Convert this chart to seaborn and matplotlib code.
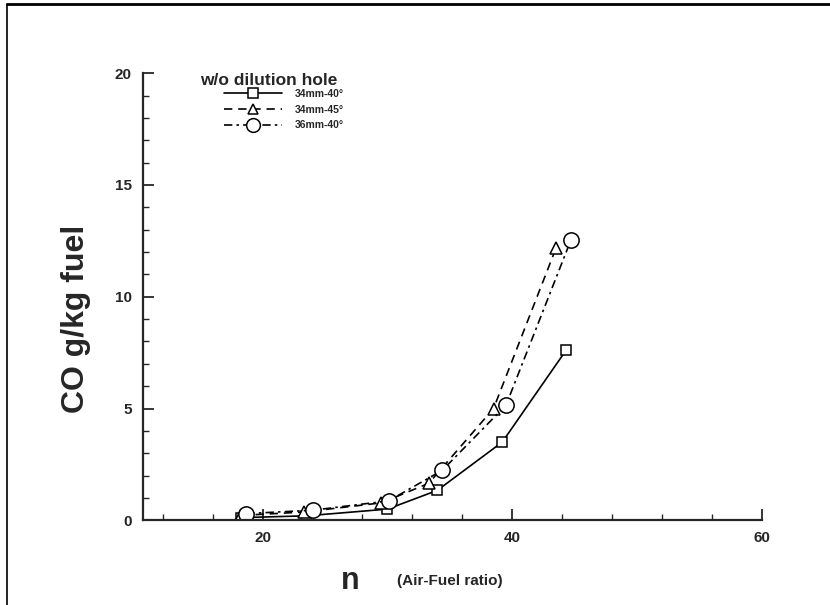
import numpy as np
import pandas as pd
import matplotlib
matplotlib.use("Agg")
import matplotlib.pyplot as plt
import seaborn as sns
from matplotlib.lines import Line2D
from matplotlib.ticker import MultipleLocator

# данные
series = ["34mm-40°", "34mm-45°", "36mm-40°"]
n_sq = [18.3, 23.5, 30.0, 34.0, 39.2, 44.3]
co_sq = [0.12, 0.2, 0.5, 1.34, 3.5, 7.6]
n_tri = [18.3, 23.3, 29.5, 33.3, 38.5, 43.5]
co_tri = [0.22, 0.37, 0.78, 1.65, 5.0, 12.17]
n_circ = [18.7, 24.0, 30.1, 34.4, 39.5, 44.7]
co_circ = [0.3, 0.45, 0.87, 2.24, 5.15, 12.54]

xticks = [20, 40, 60]
yticks = [0, 5, 10, 15, 20]

sns.set_style("ticks")
plt.rcParams['font.family'] = ['Liberation Sans', 'DejaVu Sans']

fig = plt.figure(figsize=(8.3, 6.05), dpi=100)
ax = fig.add_axes([0.172, 0.14, 0.746, 0.739])

styles = [
    (n_sq, co_sq, "s", "-", 7.5),
    (n_tri, co_tri, "^", (0, (5, 3.5)), 8.5),
    (n_circ, co_circ, "o", (0, (5, 2.5, 1.5, 2.5)), 11),
]
for name, (xs, ys, mk, ls, ms) in zip(series, styles):
    df = pd.DataFrame({"n": xs, "co": ys})
    sns.lineplot(data=df, x="n", y="co", ax=ax, color="black", linestyle=ls,
                 linewidth=1.2, marker=mk, markersize=ms,
                 markerfacecolor="white", markeredgecolor="black",
                 markeredgewidth=1.1, label=name)

ax.set_xlim(10.4, 60)
ax.set_ylim(0, 20)
ax.set_xticks(xticks)
ax.set_yticks(yticks)
ax.xaxis.set_minor_locator(MultipleLocator(4))
ax.yaxis.set_minor_locator(MultipleLocator(1))
ax.tick_params(which="major", direction="in", length=8, width=1.3, labelsize=11, pad=8)
ax.tick_params(which="minor", direction="in", length=4, width=1.0)
for lab in ax.get_xticklabels() + ax.get_yticklabels():
    lab.set_fontweight("bold")

sns.despine(ax=ax)
for s in ["left", "bottom"]:
    ax.spines[s].set_linewidth(1.6)

ax.set_xlabel("")
ax.set_ylabel("CO g/kg fuel", fontsize=23, fontweight="bold")
ax.yaxis.set_label_coords(-0.084, 0.45)

ax.text(0.335, -0.135, "n", transform=ax.transAxes, fontsize=22, fontweight="bold",
        ha="center", va="center")
ax.text(0.41, -0.135, "(Air-Fuel ratio)", transform=ax.transAxes, fontsize=11,
        fontweight="bold", ha="left", va="center")

# легенда: заголовок отдельно, записи с отступом
ax.text(0.092, 0.984, "w/o dilution hole", transform=ax.transAxes, fontsize=12.5,
        fontweight="bold", ha="left", va="center")
leg = ax.legend(loc="upper left", bbox_to_anchor=(0.132, 0.965), frameon=False,
                fontsize=7.5, handlelength=5.5, labelspacing=0.55, handletextpad=1.2,
                borderpad=0, borderaxespad=0, markerscale=0.9)
for t in leg.get_texts():
    t.set_fontweight("bold")

# рамка сверху и слева
fig.add_artist(Line2D([7 / 830, 1], [1 - 4 / 605, 1 - 4 / 605], color="black", lw=2,
                      transform=fig.transFigure))
fig.add_artist(Line2D([7 / 830, 7 / 830], [1 - 4 / 605, 0], color="black", lw=1.2,
                      transform=fig.transFigure))

fig.savefig("out.png", dpi=100)
